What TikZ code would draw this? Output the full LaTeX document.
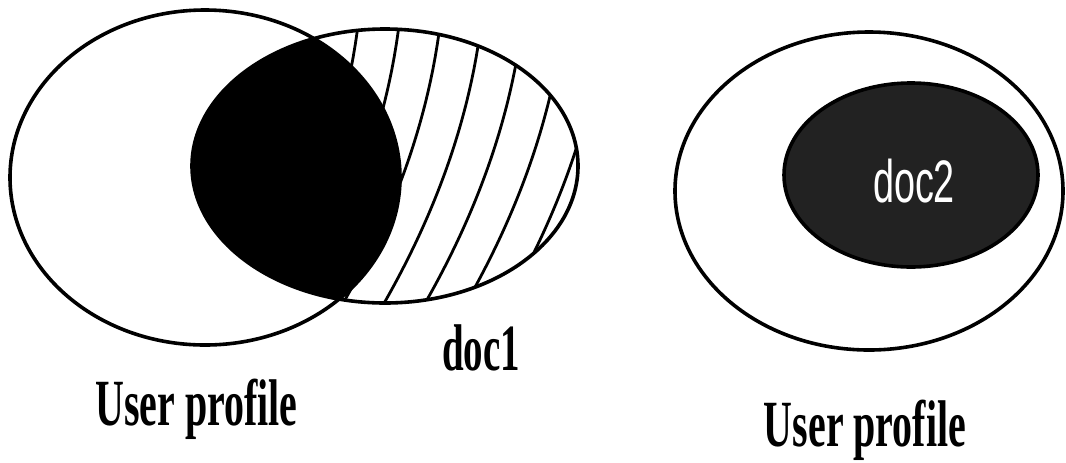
\documentclass[tikz,border=0pt]{standalone}
\usepackage{fontspec}
\usepackage{graphicx}
\setmainfont{Liberation Serif}
\newfontfamily\docfont{Liberation Sans}
\definecolor{docgray}{RGB}{34,34,34}
\begin{document}
\begin{tikzpicture}[x=0.5pt,y=-0.5pt,
  outline/.style={line width=1.8pt},
  hatchline/.style={line width=1.4pt},
  lbl/.style={font=\bfseries\fontsize{33}{40}\selectfont, anchor=base, inner sep=0pt}]
\useasboundingbox (0,0) rectangle (1066,462);
% hatching of doc1 (slightly curved lines)
\begin{scope}
  \clip (385,166) ellipse [x radius=193, y radius=137];
  \foreach \k in {-4,...,4} {
    \draw[hatchline] plot[domain=20:320, samples=25, variable=\t, smooth]
      ({447+41*\k - 0.15*(\t-167) - 0.08*(((\t-40)/10)*((\t-40)/10) - 161.29)}, \t);
  }
\end{scope}
% overlap (black lens)
\begin{scope}
  \clip (205,177.5) ellipse [x radius=195, y radius=167.5];
  \fill[black] (385,166) ellipse [x radius=193, y radius=137];
\end{scope}
\draw[outline] (205,177.5) ellipse [x radius=195, y radius=167.5];
\draw[outline] (385,166) ellipse [x radius=193, y radius=137];
% right figure
\draw[outline] (869,191) ellipse [x radius=194, y radius=159];
\draw[outline, fill=docgray] (911,175) ellipse [x radius=127, y radius=92];
% labels
\node[lbl] (doc1) at (481,370) {\scalebox{0.59}[1]{doc1}};
\node[lbl] (up1) at (196.5,425) {\scalebox{0.605}[1]{User profile}};
\node[lbl] (up2) at (865,446) {\scalebox{0.605}[1]{User profile}};
\node[anchor=base, inner sep=0pt, font=\docfont\fontsize{30}{36}\selectfont, text=white] (doc2) at (914,202) {\scalebox{0.63}[1]{doc2}};
\end{tikzpicture}
\end{document}
